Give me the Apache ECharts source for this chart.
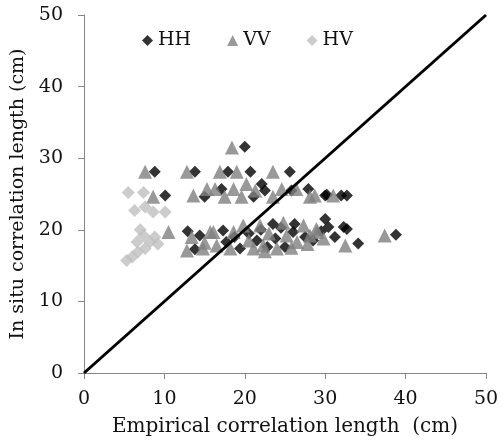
<!DOCTYPE html>
<html>
<head>
<meta charset="utf-8">
<script src="https://cdn.jsdelivr.net/npm/echarts@6/dist/echarts.min.js"></script>
<style>html,body{margin:0;padding:0;background:#fff}#c{width:503px;height:442px}</style>
</head>
<body>
<div id="c"></div>
<script>
const xTicks = [0, 10, 20, 30, 40, 50];
const yTicks = [0, 10, 20, 30, 40, 50];
const seriesNames = ['HH', 'VV', 'HV'];

const hhX = [8.8, 13.8, 20.0, 10.1, 15.0, 12.9, 14.4, 13.8, 17.9, 20.7, 25.6, 17.1, 22.1, 22.5, 25.8, 27.9, 21.1, 30.0, 32.0, 32.7, 30.0, 30.4, 32.3, 32.7, 31.2, 34.1, 38.8, 17.3, 17.7, 19.4, 23.5, 26.2, 26.0, 25.0, 23.8, 20.5, 21.5, 22.8, 27.5, 28.5, 29.5, 24.5, 22.0, 18.7, 30.2];
const hhY = [28.1, 28.1, 31.6, 24.8, 24.6, 19.8, 19.2, 17.3, 28.1, 28.1, 28.1, 25.7, 26.4, 25.5, 25.5, 25.7, 24.6, 24.8, 24.8, 24.8, 21.5, 20.4, 20.4, 20.1, 19.0, 18.1, 19.3, 19.9, 18.3, 17.4, 20.8, 20.8, 19.7, 17.6, 18.8, 19.5, 18.5, 17.6, 19.0, 18.5, 19.8, 20.3, 20.0, 19.0, 24.9];

const vvX = [7.6, 12.8, 18.4, 8.6, 13.6, 15.3, 10.5, 13.4, 15.7, 12.8, 14.8, 16.9, 19.0, 23.5, 16.3, 18.6, 20.2, 21.3, 24.6, 26.4, 17.5, 19.6, 23.5, 28.1, 28.7, 31.0, 28.9, 32.5, 37.4, 16.1, 18.6, 19.8, 21.9, 22.3, 21.1, 24.0, 25.2, 27.3, 28.1, 29.0, 18.2, 16.5, 20.5, 23.0, 26.5, 27.8, 24.8, 15.0, 29.8, 22.5, 25.8];
const vvY = [28.1, 28.1, 31.5, 24.6, 24.8, 25.7, 19.7, 19.0, 19.7, 17.1, 17.4, 28.1, 28.1, 28.1, 25.7, 25.7, 26.4, 25.5, 25.7, 25.7, 24.6, 24.6, 24.6, 24.6, 24.8, 24.8, 20.1, 17.8, 19.2, 19.7, 19.7, 20.6, 20.6, 17.8, 17.4, 17.4, 19.2, 20.6, 19.2, 19.7, 17.4, 17.8, 18.5, 19.5, 18.3, 18.0, 21.0, 18.2, 18.8, 17.0, 17.5];

const hvX = [5.5, 7.4, 6.3, 7.6, 8.6, 10.1, 7.4, 6.6, 8.2, 7.6, 6.7, 6.0, 5.3, 8.8, 9.2, 7.0];
const hvY = [25.2, 25.2, 22.7, 23.2, 22.5, 22.5, 19.2, 18.3, 18.3, 17.4, 16.9, 16.2, 15.7, 19.0, 18.0, 20.0];

const lineX = [0, 50];
const lineY = [0, 50];

const zip = (a, b) => a.map((v, i) => [v, b[i]]);
const font = 'DejaVu Serif';
const axisGray = '#868686';

const chart = echarts.init(document.getElementById('c'));
chart.setOption({
  animation: false,
  backgroundColor: '#fff',
  grid: { left: 84, right: 17, top: 15, bottom: 67 },
  legend: {
    data: seriesNames,
    top: 26, left: 137,
    itemGap: 36, itemWidth: 11, itemHeight: 11,
    textStyle: { fontFamily: font, fontSize: 19, color: '#111' }
  },
  xAxis: {
    type: 'value', min: xTicks[0], max: xTicks[xTicks.length - 1], interval: 10,
    name: 'Empirical correlation length  (cm)', nameLocation: 'middle', nameGap: 44,
    nameTextStyle: { fontFamily: font, fontSize: 20, color: '#111' },
    axisLine: { show: true, lineStyle: { color: axisGray, width: 1 } },
    axisTick: { show: true, inside: false, length: 6, lineStyle: { color: axisGray } },
    axisLabel: { fontFamily: font, fontSize: 19, color: '#111', margin: 17 },
    splitLine: { show: false }
  },
  yAxis: {
    type: 'value', min: yTicks[0], max: yTicks[yTicks.length - 1], interval: 10,
    name: 'In situ correlation length (cm)', nameLocation: 'middle', nameGap: 48,
    nameTextStyle: { fontFamily: font, fontSize: 19, color: '#111' },
    axisLine: { show: true, lineStyle: { color: axisGray, width: 1 } },
    axisTick: { show: true, inside: false, length: 6, lineStyle: { color: axisGray } },
    axisLabel: { fontFamily: font, fontSize: 19, color: '#111', margin: 21 },
    splitLine: { show: false }
  },
  series: [
    { name: 'HH', type: 'scatter', symbol: 'diamond', symbolSize: 12,
      itemStyle: { color: '#000' }, data: zip(hhX, hhY), z: 3 },
    { name: 'VV', type: 'scatter', symbol: 'triangle', symbolSize: 14,
      itemStyle: { color: '#7f7f7f' }, data: zip(vvX, vvY), z: 4 },
    { name: 'HV', type: 'scatter', symbol: 'diamond', symbolSize: 13,
      itemStyle: { color: '#bfbfbf' }, data: zip(hvX, hvY), z: 5 },
    { name: 'line', type: 'line', symbol: 'none', data: zip(lineX, lineY),
      lineStyle: { color: '#000', width: 3 }, z: 6, silent: true }
  ]
});
</script>
</body>
</html>
